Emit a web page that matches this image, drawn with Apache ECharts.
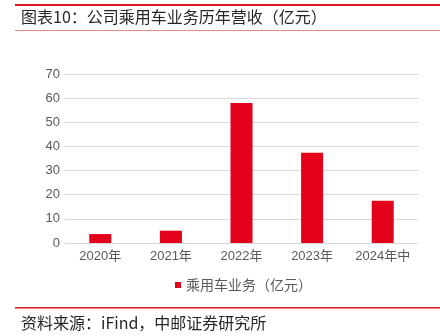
<!DOCTYPE html>
<html><head><meta charset="utf-8">
<script src="https://cdn.jsdelivr.net/npm/echarts@6/dist/echarts.min.js"></script>
<style>html,body{margin:0;padding:0;background:#fff}#c{width:440px;height:336px}</style>
</head><body><div id="c"></div>
<script>
const categories = ['2020年','2021年','2022年','2023年','2024年中'];
const revenue = [3.7, 5.1, 58.0, 37.4, 17.5];
const seriesName = '乘用车业务（亿元）';
const titleText = '图表10：公司乘用车业务历年营收（亿元）';
const sourceText = '资料来源：iFind，中邮证券研究所';
const yTicks = {min: 0, max: 70, interval: 10};

const cjk = "'Noto Sans CJK SC', sans-serif";
const latin = "'Liberation Sans', 'Noto Sans CJK SC', sans-serif";
const chart = echarts.init(document.getElementById('c'), null, {renderer: 'canvas'});
chart.setOption({
  animation: false,
  backgroundColor: '#fff',
  title: {
    text: titleText, left: 21, top: 9, padding: 0,
    textStyle: {fontFamily: cjk, fontSize: 16, fontWeight: 'normal', color: '#262626'}
  },
  graphic: [
    {type: 'rect', shape: {x: 15, y: 4, width: 425, height: 2}, style: {fill: '#d7191f'}},
    {type: 'rect', shape: {x: 15, y: 30, width: 425, height: 1}, style: {fill: '#e8848a'}},
    {type: 'rect', shape: {x: 15, y: 307, width: 425, height: 1.5}, style: {fill: '#d7191f'}},
    {type: 'text', left: 21, top: 315, style: {text: sourceText, font: "16px 'Noto Sans CJK SC'", fill: '#262626'}}
  ],
  legend: {
    data: [seriesName], top: 273, left: 170, itemWidth: 6, itemHeight: 6, itemGap: 6,
    icon: 'rect',
    textStyle: {fontFamily: cjk, fontSize: 14, color: '#595959'}
  },
  grid: {left: 65, right: 22, top: 74, bottom: 93},
  xAxis: {
    type: 'category', data: categories,
    axisLine: {lineStyle: {color: '#d9d9d9', width: 1}},
    axisTick: {show: false},
    axisLabel: {interval: 0, fontFamily: latin, fontSize: 13, color: '#595959', margin: 7}
  },
  yAxis: {
    type: 'value', min: yTicks.min, max: yTicks.max, interval: yTicks.interval,
    axisLine: {show: false}, axisTick: {show: false},
    splitLine: {lineStyle: {color: '#d9d9d9', width: 1}},
    axisLabel: {fontFamily: latin, fontSize: 13, color: '#595959', margin: 5}
  },
  series: [{
    name: seriesName, type: 'bar', data: revenue, barWidth: 22,
    itemStyle: {color: '#e2001a'}
  }]
});
</script></body></html>
